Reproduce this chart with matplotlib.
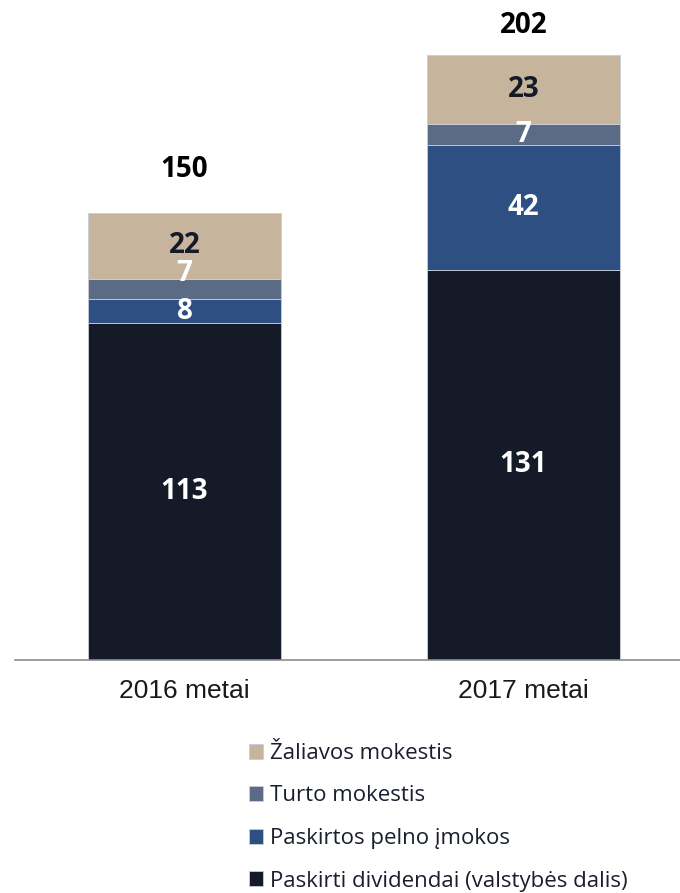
import matplotlib
matplotlib.use("Agg")
import matplotlib.pyplot as plt
import numpy as np

# duomenys
years = ["2016 metai", "2017 metai"]
series_names = [
    "Paskirti dividendai (valstybės dalis)",
    "Paskirtos pelno įmokos",
    "Turto mokestis",
    "Žaliavos mokestis",
]
dividendai = [113, 131]
pelno_imokos = [8, 42]
turto = [7, 7]
zaliavos = [22, 23]
totals = [150, 202]

colors = ["#141a27", "#2d4f82", "#5b6a85", "#c6b59c"]
label_colors = ["white", "white", "white", "#141a27"]

fig = plt.figure(figsize=(6.8, 8.93), dpi=100)
ax = fig.add_axes([15 / 680, 1 - 660 / 893, 665 / 680, 660 / 893])

x = np.arange(len(years))
width = 0.57
bottom = np.zeros(len(years))
containers = []
for vals, col, lcol, name in zip(
    [dividendai, pelno_imokos, turto, zaliavos], colors, label_colors, series_names
):
    vals = np.array(vals, dtype=float)
    bc = ax.bar(x, vals, width, bottom=bottom, color=col, edgecolor="#c9ced8",
                linewidth=0.6, label=name, zorder=2)
    containers.append(bc)
    for i, v in enumerate(vals):
        yc = bottom[i] + v / 2
        dy = 0
        # mazas segmentas 2016 m. perkeliamas aukstyn, kad nepersidengtu
        if name == "Turto mokestis" and i == 0:
            dy = 11
        ax.annotate(f"{v:g}", (x[i], yc), xytext=(0, dy), textcoords="offset points",
                    ha="center", va="center", color=lcol, fontsize=20,
                    fontweight="bold", family="Open Sans", zorder=3)
    bottom += vals

for i, t in enumerate(totals):
    off = 31 if i == 0 else 21
    ax.annotate(f"{t}", (x[i], bottom[i]), xytext=(0, off), textcoords="offset points",
                ha="center", va="center", color="black", fontsize=20,
                fontweight="bold", family="Open Sans")

ax.set_xlim(-0.5, 1.462)
ax.set_ylim(0, 221.5)
for s in ["top", "right", "left"]:
    ax.spines[s].set_visible(False)
ax.spines["bottom"].set_color("#8c8c8c")
ax.spines["bottom"].set_linewidth(1.2)
ax.set_yticks([])
ax.set_xticks(x)
ax.set_xticklabels(years, fontsize=19, family="Liberation Sans", color="#1a1a1a")
ax.tick_params(axis="x", length=0, pad=14)

handles = [c.patches[0] for c in containers][::-1]
labels = series_names[::-1]
fig.legend(handles, labels, loc="upper left", bbox_to_anchor=(240 / 680, 1 - 734 / 893),
           frameon=False, handlelength=0.65, handleheight=0.65, handletextpad=0.3,
           labelspacing=0.97, borderaxespad=0,
           prop={"family": "Open Sans", "size": 16}, labelcolor="#1a1f2e")

fig.savefig("out.png", dpi=100)
